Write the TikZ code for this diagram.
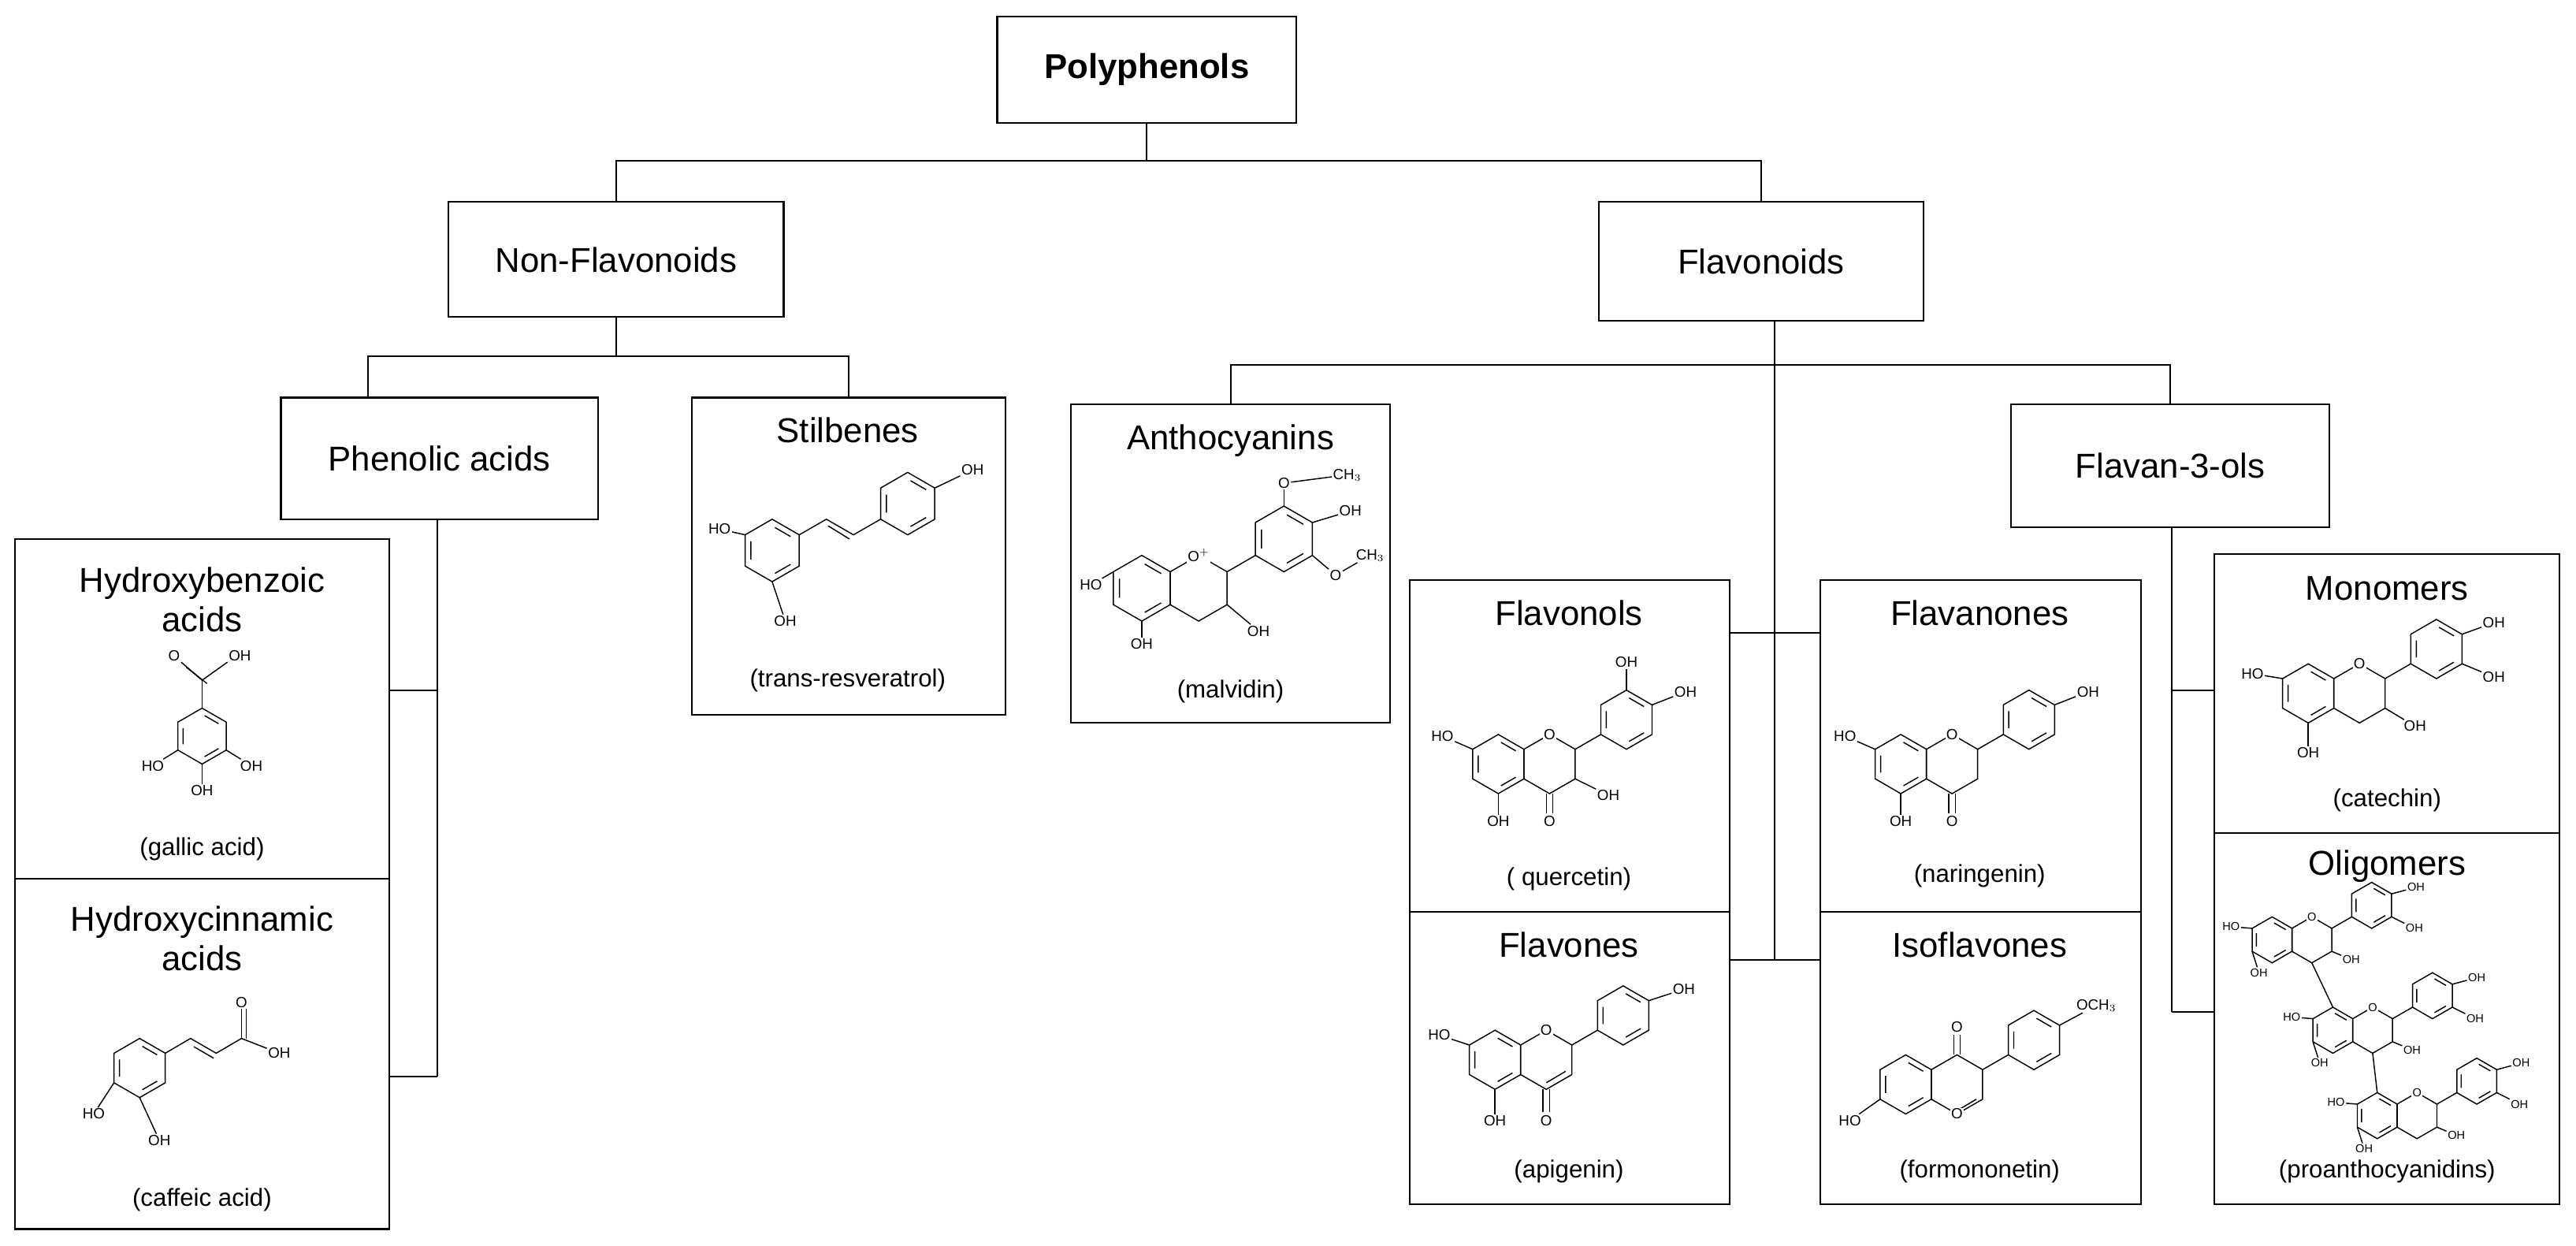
\documentclass[tikz,border=0pt]{standalone}
\usepackage{fontspec}
\setmainfont{Liberation Sans}
\usetikzlibrary{calc}
\newcommand\hexring[3]{\draw[chemb] (#1,#2) +(30:#3) -- +(90:#3) -- +(150:#3) -- +(210:#3) -- +(270:#3) -- +(330:#3) -- cycle;}
\newcommand\arom[3]{\hexring{#1}{#2}{#3}
 \draw[chemb] (#1,#2) +(37:{0.74*#3}) -- +(83:{0.74*#3}) +(157:{0.74*#3}) -- +(203:{0.74*#3}) +(277:{0.74*#3}) -- +(323:{0.74*#3});}
\begin{document}
\begin{tikzpicture}[x=1pt,y=-1pt,
 box/.style={draw,line width=1pt,inner sep=0pt},
 ttl/.style={font=\fontsize{21}{25}\selectfont,align=center},
 capt/.style={font=\fontsize{15}{18}\selectfont},
 ch/.style={font=\fontsize{9}{10}\selectfont,inner sep=0.6pt},
 chemb/.style={line width=0.7pt},
 ln/.style={line width=1pt}]
\useasboundingbox (0,0) rectangle (1568,758);
% boxes
\node[box,minimum width=182,minimum height=65,font=\fontsize{21}{25}\selectfont\bfseries] (poly) at (698,42.5) {Polyphenols};
\node[box,minimum width=204,minimum height=70,ttl] (nonf) at (375,158) {Non-Flavonoids};
\node[box,minimum width=198,minimum height=72,ttl] (flav) at (1072,159) {Flavonoids};
\node[box,minimum width=193,minimum height=74,ttl] (phen) at (267.5,279) {Phenolic acids};
\node[box,minimum width=191,minimum height=193] (stil) at (516.5,338.5) {};
\node[box,minimum width=194,minimum height=194] (anth) at (749,343) {};
\node[box,minimum width=194,minimum height=75,ttl] (f3o) at (1321,283.5) {Flavan-3-ols};
\node[box,minimum width=228,minimum height=207] (hba) at (123,431.5) {};
\node[box,minimum width=228,minimum height=213] (hca) at (123,641.5) {};
\node[box,minimum width=195,minimum height=202] (fnol) at (955.5,454) {};
\node[box,minimum width=195,minimum height=178] (fone) at (955.5,644) {};
\node[box,minimum width=195,minimum height=202] (fnon) at (1205.5,454) {};
\node[box,minimum width=195,minimum height=178] (ifl) at (1205.5,644) {};
\node[box,minimum width=210,minimum height=170] (mono) at (1453,422) {};
\node[box,minimum width=210,minimum height=226] (olig) at (1453,620) {};
% titles & captions
\node[ttl] (t1) at (123,365) {Hydroxybenzoic\\[-1pt]acids};
\node[capt] (c1) at (123,517) {(gallic acid)};
\node[ttl] (t2) at (123,571) {Hydroxycinnamic\\[-1pt]acids};
\node[capt] (c2) at (123,730) {(caffeic acid)};
\node[ttl] (t3) at (516,262) {Stilbenes};
\node[capt] (c3) at (516,414) {(trans-resveratrol)};
\node[ttl] (t4) at (749,268) {Anthocyanins};
\node[capt] (c4) at (749,421) {(malvidin)};
\node[ttl] (t5) at (955,373) {Flavonols};
\node[capt] (c5) at (955,535) {( quercetin)};
\node[ttl] (t6) at (955,575) {Flavones};
\node[capt] (c6) at (955,713) {(apigenin)};
\node[ttl] (t7) at (1205,373) {Flavanones};
\node[capt] (c7) at (1205,533) {(naringenin)};
\node[ttl] (t8) at (1205,575) {Isoflavones};
\node[capt] (c8) at (1205,713) {(formononetin)};
\node[ttl] (t9) at (1453,358) {Monomers};
\node[capt] (c9) at (1453,487) {(catechin)};
\node[ttl] (t10) at (1453,527) {Oligomers};
\node[capt] (c10) at (1453,713) {(proanthocyanidins)};
% connectors
\coordinate (j1) at (698,98);
\draw[ln] (poly.south) -- (j1);
\draw[ln] (nonf.north) |- (j1) -| (flav.north);
\coordinate (j2) at (375,217);
\draw[ln] (nonf.south) -- (j2);
\draw[ln] (224,242) |- (j2) -| (stil.north);
\coordinate (j3) at (1080,222);
\coordinate (j4) at (1080,584);
\draw[ln] (1080,195) -- (j4);
\draw[ln] (anth.north) |- (j3) -| (f3o.north);
\draw[ln] (fnol.east |- 0,385) -- (fnon.west |- 0,385);
\draw[ln] (fone.east |- 0,584) -- (ifl.west |- 0,584);
\draw[ln] (266,316) -- (266,655);
\draw[ln] (hba.east |- 0,420) -- (266,420);
\draw[ln] (hca.east |- 0,655) -- (266,655);
\draw[ln] (1322,321) -- (1322,616);
\draw[ln] (mono.west |- 0,420) -- (1322,420);
\draw[ln] (olig.west |- 0,616) -- (1322,616);
% ---- gallic acid
\arom{123}{448}{17}
\draw[chemb] (123,431) -- (123,414);
\node[ch] (g1) at (106,399) {O}; \node[ch] (g2) at (146,399) {OH};
\draw[chemb] (123,414) -- (g1.south east); \draw[chemb] (126,416) -- ($(g1.south east)+(3,3)$);
\draw[chemb] (123,414) -- (g2.south west);
\node[ch] (g3) at (93,466) {HO}; \node[ch] (g4) at (153,466) {OH}; \node[ch] (g5) at (123,481) {OH};
\draw[chemb] (108.3,456.5) -- (g3); \draw[chemb] (137.7,456.5) -- (g4); \draw[chemb] (123,465) -- (g5);
% ---- caffeic acid
\begin{scope}[yshift=-10pt]
\arom{85}{640}{18}
\draw[chemb] (100.6,631) -- (116,622) -- (131.6,631) -- (147,622);
\draw[chemb] (118,627) -- (130,634);
\node[ch] (k1) at (147,600) {O}; \node[ch] (k2) at (170,631) {OH};
\draw[chemb] (147,622) -- (k1); \draw[chemb] (150,622) -- ($(k1.south)+(3,0)$);
\draw[chemb] (147,622) -- (k2);
\node[ch] (k3) at (57,668) {HO}; \node[ch] (k4) at (97,684) {OH};
\draw[chemb] (69.4,649) -- (k3); \draw[chemb] (85,658) -- (k4);
\end{scope}
% ---- resveratrol
\arom{470}{335}{19}
\draw[chemb] (486.5,325.5) -- (503,316) -- (519.5,325.5) -- (536,316);
\draw[chemb] (504,320) -- (517,328);
\arom{552.5}{306.5}{19}
\node[ch] (r1) at (438,322) {HO}; \node[ch] (r2) at (478,378) {OH}; \node[ch] (r3) at (592,286) {OH};
\draw[chemb] (453.5,325.5) -- (r1); \draw[chemb] (470,354) -- (r2); \draw[chemb] (569,297) -- (r3);
% ---- malvidin
\begin{scope}[yshift=-8pt]
\arom{695}{350}{20}
\hexring{729.6}{350}{20}
\draw[chemb] (746.9,340) -- (764.2,330);
\arom{781.5}{320}{20}
\node[ch,fill=white] (m1) at (729.6,330) {O$^{+}$};
\node[ch] (m2) at (664,348) {HO}; \node[ch] (m3) at (695,384) {OH}; \node[ch] (m4) at (766,376) {OH};
\draw[chemb] (677.7,340) -- (m2); \draw[chemb] (695,370) -- (m3); \draw[chemb] (746.9,360) -- (m4);
\node[ch] (m5) at (781.5,286) {O}; \node[ch] (m6) at (820,281) {CH$_3$};
\draw[chemb] (781.5,300) -- (m5); \draw[chemb] (m5) -- (m6);
\node[ch] (m7) at (822,303) {OH}; \draw[chemb] (798.8,310) -- (m7);
\node[ch] (m8) at (813,342) {O}; \node[ch] (m9) at (834,330) {CH$_3$};
\draw[chemb] (798.8,330) -- (m8); \draw[chemb] (m8) -- (m9);
\end{scope}
% ---- quercetin
\arom{912}{465}{18}
\hexring{943.2}{465}{18}
\draw[chemb] (958.8,456) -- (974.4,447);
\arom{990}{438}{18}
\node[ch,fill=white] (q1) at (943.2,447) {O};
\node[ch] (q2) at (878,448) {HO}; \draw[chemb] (896.4,456) -- (q2);
\node[ch] (q3) at (912,500) {OH}; \draw[chemb] (912,483) -- (q3);
\node[ch] (q4) at (943.2,500) {O}; \draw[chemb] (941.2,483) -- (941.2,495) (945.2,483) -- (945.2,495);
\node[ch] (q5) at (979,484) {OH}; \draw[chemb] (958.8,474) -- (q5);
\node[ch] (q6) at (990,403) {OH}; \draw[chemb] (990,420) -- (q6);
\node[ch] (q7) at (1026,421) {OH}; \draw[chemb] (1005.6,429) -- (q7);
% ---- apigenin
\arom{910}{645}{18}
\hexring{941.2}{645}{18}
\draw[chemb] (941.2,659) -- (953,652);
\draw[chemb] (956.8,636) -- (972.4,627);
\arom{988}{618}{18}
\node[ch,fill=white] (a1) at (941.2,627) {O};
\node[ch] (a2) at (876,630) {HO}; \draw[chemb] (894.4,636) -- (a2);
\node[ch] (a3) at (910,682) {OH}; \draw[chemb] (910,663) -- (a3);
\node[ch] (a4) at (941.2,682) {O}; \draw[chemb] (939.2,663) -- (939.2,677) (943.2,663) -- (943.2,677);
\node[ch] (a5) at (1025,602) {OH}; \draw[chemb] (1003.6,609) -- (a5);
% ---- naringenin
\arom{1157}{465}{18}
\hexring{1188.2}{465}{18}
\draw[chemb] (1203.8,456) -- (1219.4,447);
\arom{1235}{438}{18}
\node[ch,fill=white] (n1) at (1188.2,447) {O};
\node[ch] (n2) at (1123,448) {HO}; \draw[chemb] (1141.4,456) -- (n2);
\node[ch] (n3) at (1157,500) {OH}; \draw[chemb] (1157,483) -- (n3);
\node[ch] (n4) at (1188.2,500) {O}; \draw[chemb] (1186.2,483) -- (1186.2,495) (1190.2,483) -- (1190.2,495);
\node[ch] (n5) at (1271,421) {OH}; \draw[chemb] (1250.6,429) -- (n5);
% ---- formononetin
\arom{1160}{660}{18}
\hexring{1191.2}{660}{18}
\draw[chemb] (1191.2,676) -- (1203,669);
\draw[chemb] (1206.8,651) -- (1222.4,642);
\arom{1238}{633}{18}
\node[ch,fill=white] (i1) at (1191.2,678) {O};
\node[ch] (i2) at (1191.2,625) {O}; \draw[chemb] (1189.2,642) -- (1189.2,630) (1193.2,642) -- (1193.2,630);
\node[ch] (i3) at (1126,682) {HO}; \draw[chemb] (1144.4,669) -- (i3);
\node[ch] (i4) at (1276,612) {OCH$_3$}; \draw[chemb] (1253.6,624) -- (i4);
% ---- catechin
\arom{1405}{422}{18}
\hexring{1436.2}{422}{18}
\draw[chemb] (1451.8,413) -- (1467.4,404);
\arom{1483}{395}{18}
\node[ch,fill=white] (e1) at (1436.2,404) {O};
\node[ch] (e2) at (1371,410) {HO}; \draw[chemb] (1389.4,413) -- (e2);
\node[ch] (e3) at (1405,458) {OH}; \draw[chemb] (1405,440) -- (e3);
\node[ch] (e4) at (1470,442) {OH}; \draw[chemb] (1451.8,431) -- (e4);
\node[ch] (e5) at (1518,379) {OH}; \draw[chemb] (1498.6,386) -- (e5);
\node[ch] (e6) at (1518,412) {OH}; \draw[chemb] (1498.6,404) -- (e6);
% ---- proanthocyanidins
\begin{scope}[yshift=-7pt]
\foreach \ax/\ay/\k in {1383/565/1,1420/620/2,1447/672/3}{
 \pgfmathsetmacro\cx{\ax+24.2}
 \pgfmathsetmacro\bx{\cx+36.4}
 \pgfmathsetmacro\by{\ay-21}
 \arom{\ax}{\ay}{14}
 \hexring{\cx}{\ay}{14}
 \draw[chemb] (\cx,\ay) +(330:14) -- ($(\bx,\by)+(150:14)$);
 \arom{\bx}{\by}{14}
 \node[ch,fill=white,font=\fontsize{7}{8}\selectfont] (po\k) at (\cx,\ay-14) {O};
 \node[ch,font=\fontsize{7}{8}\selectfont] (ph\k) at (\ax-25,\ay-8) {HO};
 \draw[chemb] (\ax,\ay) +(210:14) -- (ph\k);
 \node[ch,font=\fontsize{7}{8}\selectfont] (pl\k) at (\ax-8,\ay+20) {OH};
 \draw[chemb] (\ax,\ay) +(150:14) -- (pl\k);
 \node[ch,font=\fontsize{7}{8}\selectfont] (pc\k) at (\cx+24,\ay+12) {OH};
 \draw[chemb] (\cx,\ay) +(30:14) -- (pc\k);
 \node[ch,font=\fontsize{7}{8}\selectfont] (pb\k) at (\bx+27,\by-11) {OH};
 \draw[chemb] (\bx,\by) +(330:14) -- (pb\k);
 \node[ch,font=\fontsize{7}{8}\selectfont] (pd\k) at (\bx+26,\by+14) {OH};
 \draw[chemb] (\bx,\by) +(30:14) -- (pd\k);
}
\draw[chemb] (1407.2,579) -- (1420,606);
\draw[chemb] (1444.2,634) -- (1447,658);
\end{scope}
\end{tikzpicture}
\end{document}
